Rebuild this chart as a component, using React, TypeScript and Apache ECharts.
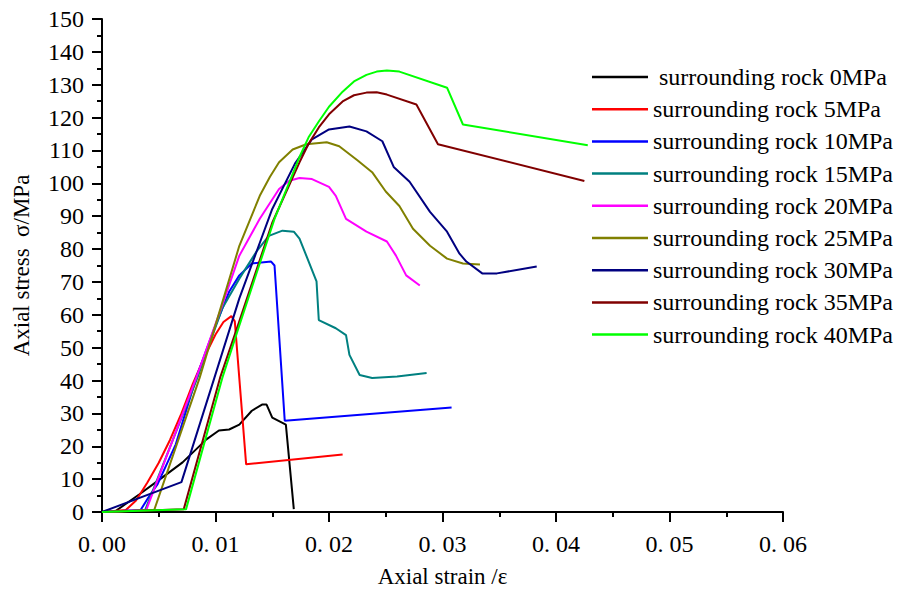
import React, { useEffect, useRef } from "react";
import * as echarts from "echarts";

const seriesNames = [
  "\u00a0surrounding rock 0MPa",
  "surrounding rock 5MPa",
  "surrounding rock 10MPa",
  "surrounding rock 15MPa",
  "surrounding rock 20MPa",
  "surrounding rock 25MPa",
  "surrounding rock 30MPa",
  "surrounding rock 35MPa",
  "surrounding rock 40MPa",
];

const seriesColors = ["#000000", "#ff0000", "#0000ff", "#008080", "#ff00ff", "#808000", "#000080", "#800000", "#00ff00"];

const rock0: number[][] = [
  [0.0012, 0.3], [0.0033, 5.4], [0.005, 9.7], [0.0071, 15.1], [0.0092, 22.1], [0.0103, 24.8], [0.0112, 25.1],
  [0.0121, 26.6], [0.0132, 30.8], [0.0141, 32.7], [0.0145, 32.7], [0.015, 28.7], [0.0162, 26.6], [0.0169, 0.9],
];
const rock5: number[][] = [
  [0, 0], [0.0021, 0.6], [0.003, 3.5], [0.004, 9], [0.005, 15], [0.006, 22], [0.007, 30], [0.008, 39], [0.009, 47],
  [0.01, 54], [0.0107, 57.8], [0.0114, 59.6], [0.0117, 58], [0.0127, 14.5], [0.0212, 17.5],
];
const rock10: number[][] = [
  [0, 0], [0.0034, 0.6], [0.0041, 4.5], [0.0049, 8.5], [0.0065, 20.6], [0.0083, 40.8], [0.0098, 55], [0.0112, 67],
  [0.0121, 72], [0.0132, 75.6], [0.0149, 76.2], [0.0152, 75], [0.0161, 27.8], [0.0308, 31.8],
];
const rock15: number[][] = [
  [0, 0], [0.0038, 0.6], [0.0084, 40.8], [0.0106, 62], [0.0121, 71], [0.0136, 79.2], [0.0147, 84], [0.0159, 85.6],
  [0.0169, 85.3], [0.0174, 83.2], [0.0189, 70.2], [0.0191, 58.4], [0.0206, 55.9], [0.0215, 53.8], [0.0218, 47.8],
  [0.0227, 41.7], [0.0238, 40.8], [0.026, 41.2], [0.0286, 42.3],
];
const rock20: number[][] = [
  [0, 0], [0.0039, 0.6], [0.0083, 40.8], [0.0105, 62], [0.0121, 78], [0.0139, 89.2], [0.0156, 98.3], [0.0165, 100.8],
  [0.0174, 101.6], [0.0185, 101.3], [0.02, 98.9], [0.0206, 96.2], [0.0215, 89.2], [0.0233, 85.3], [0.0251, 82.3],
  [0.0259, 78], [0.0268, 72], [0.028, 68.9],
];
const rock25: number[][] = [
  [0, 0], [0.0046, 0.6], [0.0086, 40.8], [0.0121, 81], [0.0139, 96.2], [0.0148, 102], [0.0156, 106.4], [0.0168, 110.3],
  [0.018, 111.9], [0.0198, 112.5], [0.0209, 111.3], [0.0225, 107], [0.0238, 103.4], [0.025, 97.5], [0.0262, 93.1],
  [0.0274, 86.2], [0.0289, 81], [0.0304, 77.1], [0.0318, 75.6], [0.0333, 75.3],
];
const rock30: number[][] = [
  [0, 0], [0.007, 9.1], [0.0099, 40.8], [0.0121, 65], [0.015, 92.2], [0.017, 106], [0.0185, 113.4], [0.02, 116.4],
  [0.0218, 117.3], [0.0233, 115.8], [0.0247, 112.8], [0.0257, 105], [0.0271, 100.5], [0.0289, 91.3], [0.0304, 85.3],
  [0.0315, 78.6], [0.0321, 76.2], [0.0335, 72.6], [0.0348, 72.6], [0.0383, 74.7],
];
const rock35: number[][] = [
  [0, 0], [0.0072, 0.8], [0.0104, 40.8], [0.012, 57], [0.015, 88], [0.0174, 106.4], [0.0182, 112], [0.0191, 117],
  [0.02, 121], [0.0212, 124.9], [0.0222, 126.8], [0.0233, 127.6], [0.0242, 127.7], [0.0251, 127], [0.0277, 124],
  [0.0296, 111.9], [0.0425, 100.7],
];
const rock40: number[][] = [
  [0, 0], [0.0074, 0.8], [0.0106, 40.8], [0.0121, 56.8], [0.0152, 89.2], [0.0174, 108], [0.0182, 114], [0.0191, 118.8],
  [0.02, 123.3], [0.0212, 127.9], [0.0222, 131], [0.0233, 133], [0.0242, 134], [0.0251, 134.3], [0.0262, 134],
  [0.0304, 129.1], [0.0318, 117.9], [0.0428, 111.6],
];

const allData = [rock0, rock5, rock10, rock15, rock20, rock25, rock30, rock35, rock40];

const FONT = "'Times New Roman', 'Liberation Serif', serif";

export default function App() {
  const ref = useRef<HTMLDivElement>(null);
  useEffect(() => {
    if (!ref.current) return;
    const chart = echarts.init(ref.current, undefined, { renderer: "svg" });
    chart.setOption({
      animation: false,
      backgroundColor: "#ffffff",
      grid: { left: 102, right: 115, top: 19, bottom: 78, containLabel: false },
      legend: {
        orient: "vertical",
        left: 587,
        top: 60,
        icon: "rect",
        itemWidth: 56,
        itemHeight: 2.5,
        itemGap: 8.2,
        textStyle: { fontFamily: FONT, fontSize: 24, color: "#000", lineHeight: 24 },
        data: seriesNames,
      },
      xAxis: {
        type: "value",
        min: 0,
        max: 0.06,
        interval: 0.01,
        name: "Axial strain /ε",
        nameLocation: "middle",
        nameGap: 53,
        nameTextStyle: { fontFamily: FONT, fontSize: 23, color: "#000" },
        axisLine: { show: true, onZero: false, lineStyle: { color: "#000", width: 2 } },
        axisTick: { show: true, inside: false, length: 10, lineStyle: { color: "#000", width: 2 } },
        minorTick: { show: true, splitNumber: 2, length: 5, lineStyle: { color: "#000", width: 2 } },
        splitLine: { show: false },
        axisLabel: {
          fontFamily: FONT,
          fontSize: 24,
          color: "#000",
          margin: 20,
          formatter: (v: number) => v.toFixed(2).replace(".", ". "),
        },
      },
      yAxis: {
        type: "value",
        min: 0,
        max: 150,
        interval: 10,
        name: "Axial stress  σ/MPa",
        nameLocation: "middle",
        nameGap: 69,
        nameTextStyle: { fontFamily: FONT, fontSize: 23, color: "#000" },
        axisLine: { show: true, lineStyle: { color: "#000", width: 2 } },
        axisTick: { show: true, inside: false, length: 10, lineStyle: { color: "#000", width: 2 } },
        minorTick: { show: true, splitNumber: 2, length: 5, lineStyle: { color: "#000", width: 2 } },
        splitLine: { show: false },
        axisLabel: { fontFamily: FONT, fontSize: 24, color: "#000", margin: 18 },
      },
      series: allData.map((d, i) => ({
        name: seriesNames[i],
        type: "line",
        data: d,
        symbol: "none",
        color: seriesColors[i],
        lineStyle: { color: seriesColors[i], width: 2 },
        itemStyle: { color: seriesColors[i] },
      })),
    });
    return () => chart.dispose();
  }, []);
  return (
    <div
      ref={ref}
      style={{ position: "fixed", left: 0, top: 0, width: 898, height: 593, background: "#fff" }}
    />
  );
}
